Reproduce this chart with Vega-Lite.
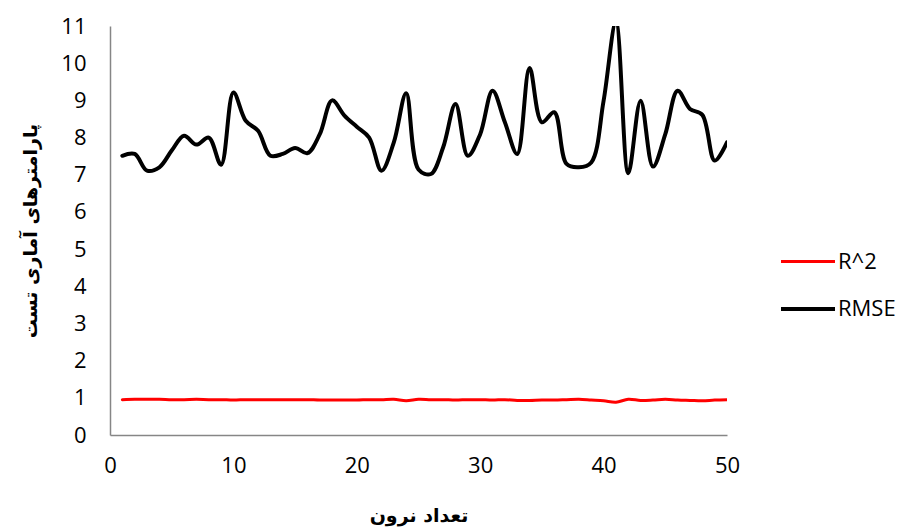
{
  "$schema": "https://vega.github.io/schema/vega-lite/v6.json",
  "autosize": "none",
  "width": 617,
  "height": 409,
  "padding": {"left": 110, "top": 26, "right": 177, "bottom": 92},
  "background": "white",
  "config": {
    "view": {"stroke": null},
    "font": "Open Sans"
  },
  "data": {
    "values": [
      {"n":1,"s":"RMSE","v":7.51},{"n":2,"s":"RMSE","v":7.56},{"n":3,"s":"RMSE","v":7.11},{"n":4,"s":"RMSE","v":7.2},{"n":5,"s":"RMSE","v":7.65},
      {"n":6,"s":"RMSE","v":8.05},{"n":7,"s":"RMSE","v":7.81},{"n":8,"s":"RMSE","v":8.0},{"n":9,"s":"RMSE","v":7.27},{"n":10,"s":"RMSE","v":9.21},
      {"n":11,"s":"RMSE","v":8.45},{"n":12,"s":"RMSE","v":8.18},{"n":13,"s":"RMSE","v":7.51},{"n":14,"s":"RMSE","v":7.56},{"n":15,"s":"RMSE","v":7.72},
      {"n":16,"s":"RMSE","v":7.58},{"n":17,"s":"RMSE","v":8.09},{"n":18,"s":"RMSE","v":9.0},{"n":19,"s":"RMSE","v":8.59},{"n":20,"s":"RMSE","v":8.29},
      {"n":21,"s":"RMSE","v":8.0},{"n":22,"s":"RMSE","v":7.11},{"n":23,"s":"RMSE","v":7.87},{"n":24,"s":"RMSE","v":9.19},{"n":25,"s":"RMSE","v":7.14},
      {"n":26,"s":"RMSE","v":7.02},{"n":27,"s":"RMSE","v":7.74},{"n":28,"s":"RMSE","v":8.9},{"n":29,"s":"RMSE","v":7.51},{"n":30,"s":"RMSE","v":8.09},
      {"n":31,"s":"RMSE","v":9.26},{"n":32,"s":"RMSE","v":8.41},{"n":33,"s":"RMSE","v":7.56},{"n":34,"s":"RMSE","v":9.87},{"n":35,"s":"RMSE","v":8.41},
      {"n":36,"s":"RMSE","v":8.68},{"n":37,"s":"RMSE","v":7.29},{"n":38,"s":"RMSE","v":7.2},{"n":39,"s":"RMSE","v":7.33},{"n":40,"s":"RMSE","v":8.99},
      {"n":41,"s":"RMSE","v":11.1},{"n":42,"s":"RMSE","v":7.04},{"n":43,"s":"RMSE","v":8.99},{"n":44,"s":"RMSE","v":7.22},{"n":45,"s":"RMSE","v":8.09},
      {"n":46,"s":"RMSE","v":9.26},{"n":47,"s":"RMSE","v":8.77},{"n":48,"s":"RMSE","v":8.61},{"n":49,"s":"RMSE","v":7.38},{"n":50,"s":"RMSE","v":7.87},
      {"n":1,"s":"R^2","v":0.95},{"n":2,"s":"R^2","v":0.96},{"n":3,"s":"R^2","v":0.96},{"n":4,"s":"R^2","v":0.96},{"n":5,"s":"R^2","v":0.95},
      {"n":6,"s":"R^2","v":0.95},{"n":7,"s":"R^2","v":0.96},{"n":8,"s":"R^2","v":0.95},{"n":9,"s":"R^2","v":0.95},{"n":10,"s":"R^2","v":0.94},
      {"n":11,"s":"R^2","v":0.95},{"n":12,"s":"R^2","v":0.95},{"n":13,"s":"R^2","v":0.95},{"n":14,"s":"R^2","v":0.95},{"n":15,"s":"R^2","v":0.95},
      {"n":16,"s":"R^2","v":0.95},{"n":17,"s":"R^2","v":0.94},{"n":18,"s":"R^2","v":0.94},{"n":19,"s":"R^2","v":0.94},{"n":20,"s":"R^2","v":0.94},
      {"n":21,"s":"R^2","v":0.95},{"n":22,"s":"R^2","v":0.95},{"n":23,"s":"R^2","v":0.96},{"n":24,"s":"R^2","v":0.92},{"n":25,"s":"R^2","v":0.96},
      {"n":26,"s":"R^2","v":0.95},{"n":27,"s":"R^2","v":0.95},{"n":28,"s":"R^2","v":0.94},{"n":29,"s":"R^2","v":0.95},{"n":30,"s":"R^2","v":0.95},
      {"n":31,"s":"R^2","v":0.94},{"n":32,"s":"R^2","v":0.95},{"n":33,"s":"R^2","v":0.93},{"n":34,"s":"R^2","v":0.93},{"n":35,"s":"R^2","v":0.94},
      {"n":36,"s":"R^2","v":0.94},{"n":37,"s":"R^2","v":0.95},{"n":38,"s":"R^2","v":0.96},{"n":39,"s":"R^2","v":0.94},{"n":40,"s":"R^2","v":0.92},
      {"n":41,"s":"R^2","v":0.88},{"n":42,"s":"R^2","v":0.96},{"n":43,"s":"R^2","v":0.93},{"n":44,"s":"R^2","v":0.94},{"n":45,"s":"R^2","v":0.96},
      {"n":46,"s":"R^2","v":0.94},{"n":47,"s":"R^2","v":0.93},{"n":48,"s":"R^2","v":0.92},{"n":49,"s":"R^2","v":0.94},{"n":50,"s":"R^2","v":0.95}
    ]
  },
  "mark": {"type": "line", "interpolate": "catmull-rom", "clip": true, "strokeCap": "round", "strokeJoin": "round"},
  "encoding": {
    "x": {
      "field": "n", "type": "quantitative",
      "scale": {"domain": [0, 50], "nice": false},
      "axis": {
        "title": "تعداد نرون", "titleFont": "DejaVu Sans", "titleFontSize": 19, "titleFontWeight": "bold", "titleColor": "#000", "titlePadding": 30,
        "values": [0, 10, 20, 30, 40, 50], "labelFontSize": 22, "labelColor": "#000", "labelPadding": 20, "labelFlush": false,
        "grid": false, "ticks": false, "domainColor": "#868686", "domainWidth": 1.5
      }
    },
    "y": {
      "field": "v", "type": "quantitative",
      "scale": {"domain": [0, 11], "nice": false},
      "axis": {
        "title": "پارامترهای آماری تست", "titleFont": "DejaVu Sans", "titleFontSize": 19, "titleFontWeight": "bold", "titleColor": "#000", "titlePadding": 20,
        "values": [0,1,2,3,4,5,6,7,8,9,10,11], "labelFontSize": 22, "labelColor": "#000", "labelPadding": 24, "labelFlush": false,
        "grid": false, "ticks": false, "domainColor": "#868686", "domainWidth": 1.5
      }
    },
    "color": {
      "field": "s", "type": "nominal",
      "scale": {"domain": ["R^2", "RMSE"], "range": ["#FF0000", "#000000"]},
      "legend": {
        "title": null, "orient": "none", "legendX": 669, "legendY": 207,
        "symbolType": "stroke", "symbolSize": 2916, "symbolStrokeWidth": 4,
        "labelFontSize": 22, "labelColor": "#000", "labelOffset": 1, "rowPadding": 7
      }
    },
    "strokeWidth": {
      "field": "s", "type": "nominal",
      "scale": {"domain": ["R^2", "RMSE"], "range": [3, 4]},
      "legend": null
    }
  }
}
